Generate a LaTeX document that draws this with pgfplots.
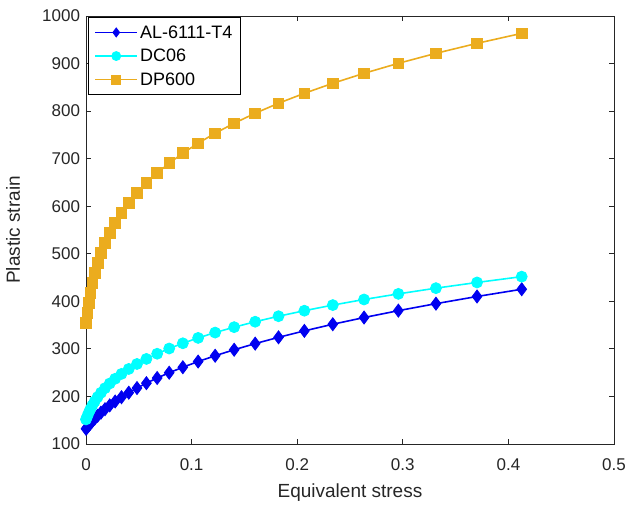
\documentclass[border=0pt]{standalone}
\usepackage{fontspec}
\setmainfont{Liberation Sans}
\usepackage{pgfplots}
\usepackage{pgfplotstable}
\pgfplotsset{compat=1.18}

\definecolor{alblue}{RGB}{0,0,240}
\definecolor{dccyan}{RGB}{0,255,255}
\definecolor{dporange}{RGB}{235,172,30}
\definecolor{axgray}{RGB}{38,38,38}

% equivalent stress, then plastic strain of each material
\pgfplotstableread{
x       al     dc     dp
0.0000  132.0  151.7  354.5
0.0012  135.0  158.0  375.5
0.0025  138.6  165.3  396.5
0.0040  142.7  172.7  417.5
0.0059  147.6  180.9  438.5
0.0082  153.1  189.5  459.5
0.0110  159.3  198.7  480.5
0.0142  165.9  207.8  501.5
0.0180  173.2  217.4  522.5
0.0225  181.2  227.3  543.5
0.0276  189.4  237.2  564.5
0.0336  198.4  247.4  585.5
0.0405  207.9  257.8  606.5
0.0483  217.7  268.3  627.5
0.0572  227.9  278.9  648.5
0.0674  238.8  289.8  669.5
0.0788  249.9  300.8  690.5
0.0917  261.4  311.8  711.5
0.1062  273.4  323.1  732.5
0.1223  285.6  334.3  753.5
0.1403  298.2  345.7  774.5
0.1602  311.1  357.1  795.5
0.1823  324.3  368.7  816.5
0.2068  337.9  380.3  837.5
0.2337  351.8  392.1  858.5
0.2633  365.9  403.9  879.5
0.2958  380.4  415.7  900.5
0.3314  395.1  427.7  921.5
0.3703  410.2  439.7  942.5
0.4126  425.4  451.9  963.5
}\flowdata

\begin{document}
\begin{tikzpicture}
\begin{axis}[
    scale only axis,
    width=528pt, height=428pt,
    xmin=0, xmax=0.5, ymin=100, ymax=1000,
    xtick={0,0.1,0.2,0.3,0.4,0.5},
    ytick={100,200,300,400,500,600,700,800,900,1000},
    tick align=inside,
    major tick length=5pt,
    axis line style={axgray, line width=0.8pt},
    tick style={axgray, line width=0.8pt},
    /pgf/number format/assume math mode=true,
    ticklabel style={font=\fontsize{17}{19}\selectfont, text=axgray},
    xticklabel style={/pgf/number format/fixed, yshift=-11pt},
    yticklabel style={/pgf/number format/fixed, /pgf/number format/1000 sep={}, xshift=-2.5pt},
    xlabel={Equivalent stress},
    ylabel={Plastic strain},
    label style={font=\fontsize{19}{21}\selectfont, text=axgray},
    xlabel style={at={([yshift=-53pt]axis description cs:0.5,0)}, anchor=base},
    ylabel style={at={([xshift=-66pt]axis description cs:0,0.5)}, anchor=base},
    legend style={at={([xshift=2pt,yshift=-1pt]axis description cs:0,1)}, anchor=north west,
        draw=black, line width=0.9pt, fill=white,
        font=\fontsize{18}{20}\selectfont,
        nodes={inner sep=2pt}, row sep=5.5pt,
        inner xsep=6pt, inner ysep=6pt},
    legend cell align=left,
    legend image code/.code={
        \draw[line width=1.6pt, mark repeat=2, mark phase=2, mark size=4.5pt]
            plot coordinates {(0pt,0pt) (21pt,0pt) (42pt,0pt)};
    },
]
\addplot[alblue, line width=1.6pt, mark=diamond*, mark size=6.5pt,
    mark options={solid, fill=alblue, draw=alblue, line width=0.8pt}] table[x=x, y=al] {\flowdata};
\addplot[dccyan, line width=1.6pt, mark=*, mark size=5.5pt,
    mark options={solid, fill=dccyan, draw=dccyan, line width=0.8pt}] table[x=x, y=dc] {\flowdata};
\addplot[dporange, line width=1.6pt, mark=square*, mark size=5.3pt,
    mark options={solid, fill=dporange, draw=dporange, line width=0.8pt}] table[x=x, y=dp] {\flowdata};
\legend{AL-6111-T4, DC06, DP600}
\end{axis}
\pgfresetboundingbox
\path[use as bounding box] ([xshift=-86pt,yshift=-63pt]current axis.south west)
    rectangle ([xshift=13pt,yshift=16pt]current axis.north east);
\end{tikzpicture}
\end{document}
